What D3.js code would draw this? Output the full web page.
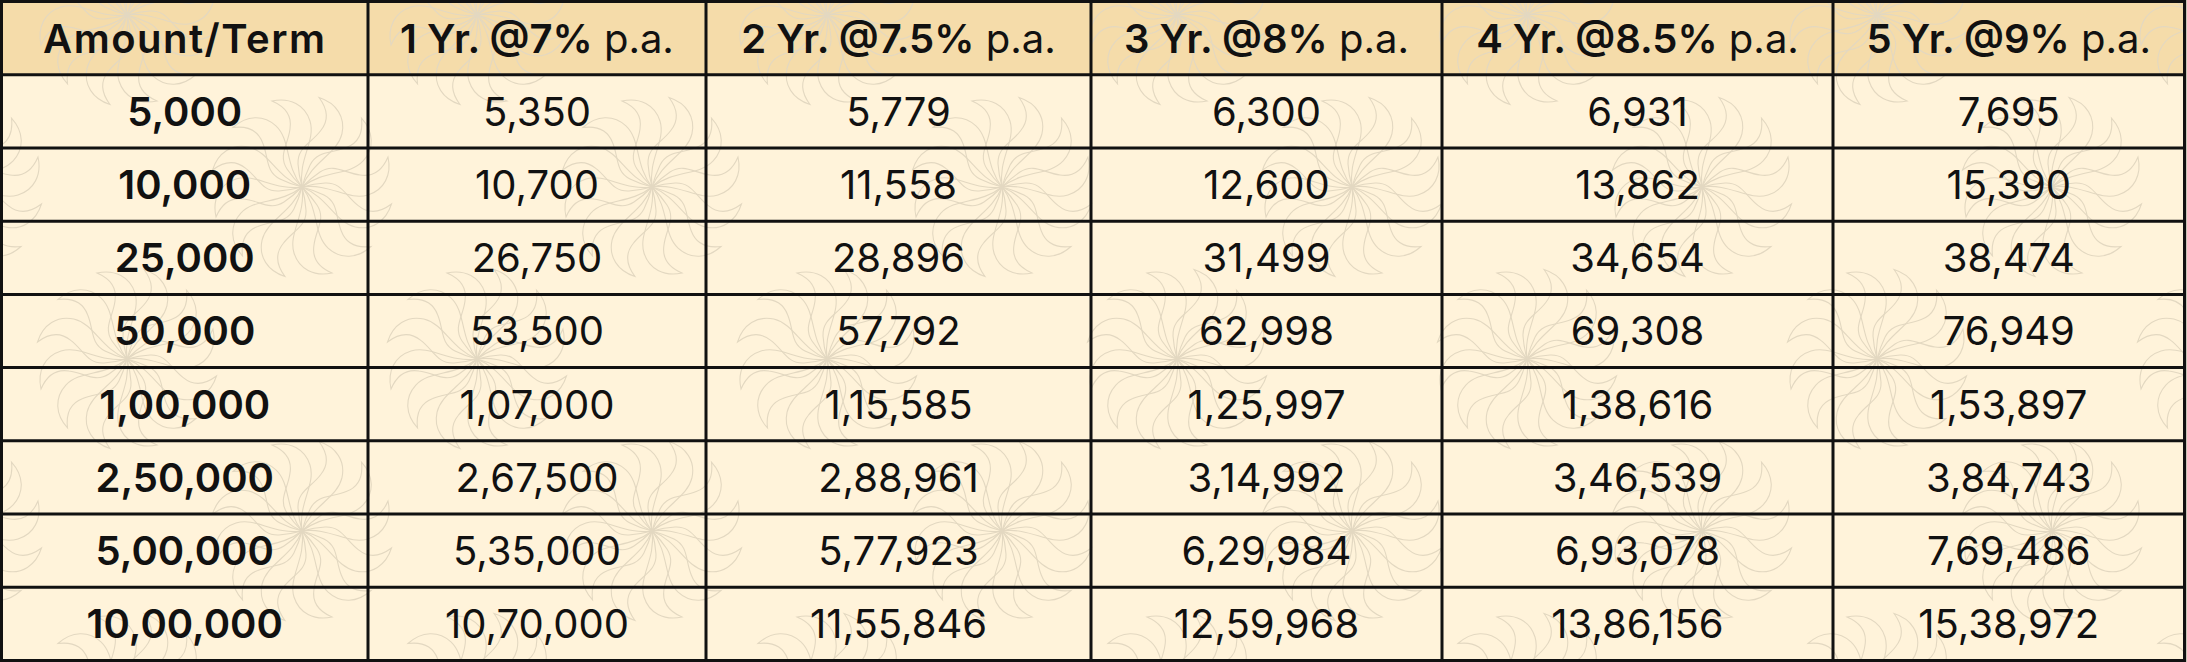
<!DOCTYPE html>
<html>
<head>
<meta charset="utf-8">
<script src="https://cdn.jsdelivr.net/npm/d3@7"></script>
<style>
  html, body { margin: 0; padding: 0; background: #c9c3b6; }
  svg { display: block; }
</style>
</head>
<body>
<script>
// table data
const amounts = ["5,000", "10,000", "25,000", "50,000", "1,00,000", "2,50,000", "5,00,000", "10,00,000"];
const terms = ["1 Yr. @7%", "2 Yr. @7.5%", "3 Yr. @8%", "4 Yr. @8.5%", "5 Yr. @9%"];
const termSuffix = " p.a.";
const firstHeader = "Amount/Term";
const yr1 = ["5,350", "10,700", "26,750", "53,500", "1,07,000", "2,67,500", "5,35,000", "10,70,000"];
const yr2 = ["5,779", "11,558", "28,896", "57,792", "1,15,585", "2,88,961", "5,77,923", "11,55,846"];
const yr3 = ["6,300", "12,600", "31,499", "62,998", "1,25,997", "3,14,992", "6,29,984", "12,59,968"];
const yr4 = ["6,931", "13,862", "34,654", "69,308", "1,38,616", "3,46,539", "6,93,078", "13,86,156"];
const yr5 = ["7,695", "15,390", "38,474", "76,949", "1,53,897", "3,84,743", "7,69,486", "15,38,972"];
const series = [yr1, yr2, yr3, yr4, yr5];

const W = 2187, H = 662;
const font = "Inter, 'Noto Sans', sans-serif";
const fs = 40;

// column edges (table is not evenly split)
const colEdges = [1.5, 368, 706, 1091, 1442, 1833, 2184.5];
const nCols = colEdges.length - 1;
const colIdx = d3.range(nCols);
const x0 = d3.scaleOrdinal().domain(colIdx).range(colEdges.slice(0, -1));
const x1 = d3.scaleOrdinal().domain(colIdx).range(colEdges.slice(1));
const xMid = i => (x0(i) + x1(i)) / 2;

const rowKeys = ["header"].concat(amounts);
const y = d3.scaleBand().domain(rowKeys).range([1.5, 660.5]);

const svg = d3.select("body").append("svg")
    .attr("width", W)
    .attr("height", H);

// cell backgrounds
svg.append("rect")
    .attr("x", colEdges[0]).attr("y", y.range()[0])
    .attr("width", colEdges[nCols] - colEdges[0])
    .attr("height", y.range()[1] - y.range()[0])
    .attr("fill", "#fff3da");
svg.append("rect")
    .attr("x", colEdges[0]).attr("y", y("header"))
    .attr("width", colEdges[nCols] - colEdges[0])
    .attr("height", y.bandwidth())
    .attr("fill", "#f5dcaa");

// faint swirl decoration behind the numbers
svg.append("clipPath").attr("id", "tbl")
  .append("rect")
    .attr("x", colEdges[0]).attr("y", y.range()[0])
    .attr("width", colEdges[nCols] - colEdges[0])
    .attr("height", y.range()[1] - y.range()[0]);

const centers = [];
[15, 187, 359, 531, 703].forEach((cy, r) => {
  const off = r % 2 === 0 ? 127 : 302;
  for (let cx = off - 350; cx < W + 350; cx += 350) centers.push([cx, cy]);
});
const petal = "M0,0 C28,-4 46,14 66,8 C82,3 90,-12 86,-30 C80,-16 70,-10 58,-12 C42,-14 32,-24 18,-15 C9,-9 4,-4 0,0";
const deco = svg.append("g").attr("clip-path", "url(#tbl)");
const swirl = deco.selectAll("g.swirl").data(centers).join("g")
    .attr("class", "swirl")
    .attr("transform", d => `translate(${d[0]},${d[1]})`);
swirl.selectAll("path").data(d3.range(12)).join("path")
    .attr("d", petal)
    .attr("transform", k => `rotate(${k * 30})`)
    .attr("fill", "none")
    .attr("stroke", "#e3d8c1")
    .attr("stroke-width", 1.1);

// grid lines
const grid = svg.append("g").attr("stroke", "#111").attr("stroke-width", 3);
grid.selectAll("line.h").data(rowKeys.concat(["end"])).join("line")
    .attr("class", "h")
    .attr("x1", colEdges[0] - 1.5).attr("x2", colEdges[nCols] + 1.5)
    .attr("y1", (d, i) => y.range()[0] + i * y.step())
    .attr("y2", (d, i) => y.range()[0] + i * y.step());
grid.selectAll("line.v").data(colEdges).join("line")
    .attr("class", "v")
    .attr("x1", d => d).attr("x2", d => d)
    .attr("y1", y.range()[0] - 1.5).attr("y2", y.range()[1] + 1.5);

// header
const head = svg.append("g")
    .attr("font-family", font)
    .attr("font-size", fs)
    .attr("fill", "#111")
    .attr("text-anchor", "middle");
head.append("text")
    .attr("x", xMid(0))
    .attr("y", y("header") + y.bandwidth() / 2)
    .attr("dy", "0.36em")
    .attr("font-weight", 600)
    .attr("letter-spacing", 1.5)
    .text(firstHeader);
const ht = head.selectAll("text.term").data(terms).join("text")
    .attr("class", "term")
    .attr("x", (d, i) => xMid(i + 1))
    .attr("y", y("header") + y.bandwidth() / 2)
    .attr("dy", "0.36em");
ht.append("tspan").attr("font-weight", 600).text(d => d);
ht.append("tspan").attr("font-weight", 400).text(termSuffix);

// body
const body = svg.append("g")
    .attr("font-family", font)
    .attr("font-size", fs)
    .attr("fill", "#111")
    .attr("text-anchor", "middle");
body.selectAll("text.amt").data(amounts).join("text")
    .attr("class", "amt")
    .attr("x", xMid(0))
    .attr("y", d => y(d) + y.bandwidth() / 2)
    .attr("dy", "0.36em")
    .attr("font-weight", 600)
    .text(d => d);
series.forEach((vals, c) => {
  body.selectAll(`text.c${c}`).data(vals).join("text")
      .attr("class", `c${c}`)
      .attr("x", xMid(c + 1))
      .attr("y", (d, i) => y(amounts[i]) + y.bandwidth() / 2)
      .attr("dy", "0.36em")
      .text(d => d);
});
</script>
</body>
</html>
